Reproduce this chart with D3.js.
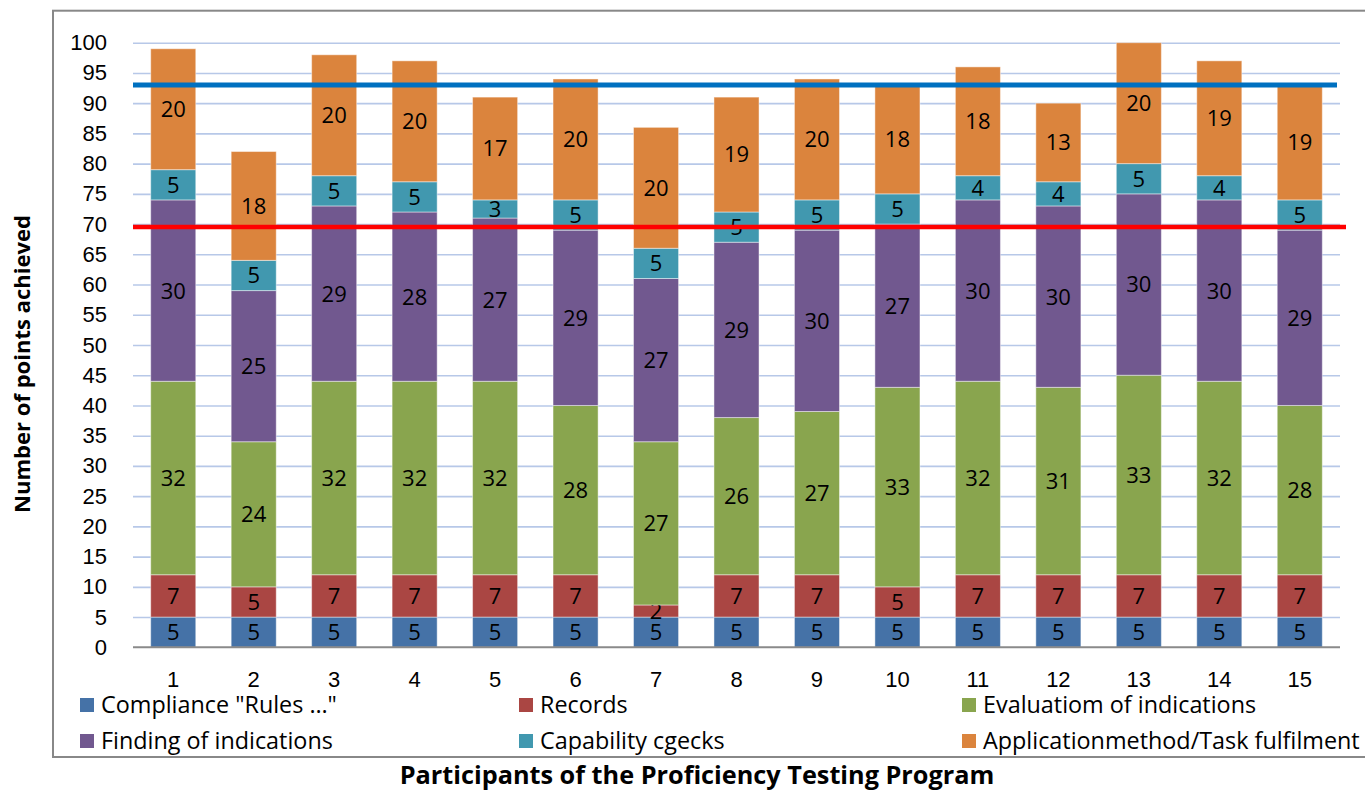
<!DOCTYPE html>
<html>
<head>
<meta charset="utf-8">
<script src="https://cdn.jsdelivr.net/npm/d3@7"></script>
<style>
    body { margin: 0; background: #fff; }
    svg { display: block; font-family: "Open Sans", sans-serif; }
    .grid-hline line { stroke: #b7c8e8; stroke-width: 1.6; }
    .grid-hline path { display: none; }
    .axis path, .axis line { display: none; }
    .axis text { font-size: 22px; fill: #000; }
    .title { font-weight: bold; fill: #000; }
</style>
</head>
<body>
<div id="chart"></div>
<script>
const participants = ["1", "2", "3", "4", "5", "6", "7", "8", "9", "10", "11", "12", "13", "14", "15"]
const seriesNames = ["Compliance \"Rules …\"", "Records", "Evaluatiom of indications",
    "Finding of indications", "Capability cgecks", "Applicationmethod/Task fulfilment"]
const compliance = [5, 5, 5, 5, 5, 5, 5, 5, 5, 5, 5, 5, 5, 5, 5]
const records = [7, 5, 7, 7, 7, 7, 2, 7, 7, 5, 7, 7, 7, 7, 7]
const evaluation = [32, 24, 32, 32, 32, 28, 27, 26, 27, 33, 32, 31, 33, 32, 28]
const finding = [30, 25, 29, 28, 27, 29, 27, 29, 30, 27, 30, 30, 30, 30, 29]
const capability = [5, 5, 5, 5, 3, 5, 5, 5, 5, 5, 4, 4, 5, 4, 5]
const application = [20, 18, 20, 20, 17, 20, 20, 19, 20, 18, 18, 13, 20, 19, 19]
const yTicks = [0, 5, 10, 15, 20, 25, 30, 35, 40, 45, 50, 55, 60, 65, 70, 75, 80, 85, 90, 95, 100]
const upperLimit = 93
const lowerLimit = 69.5

const colors = ["#4572a7", "#aa4643", "#89a54e", "#71588f", "#4198af", "#db843d"]
const seriesValues = [compliance, records, evaluation, finding, capability, application]

// table for d3.stack
const tdata = participants.map((p, i) => {
    const row = { participant: p }
    seriesNames.forEach((k, j) => { row[k] = seriesValues[j][i] })
    return row
})

const W = 1365, H = 792
const plot = { left: 133, right: 1340, top: 42.7, bottom: 647.3 }

const svg = d3.select('#chart').append('svg')
    .attr('width', W)
    .attr('height', H)

// shrink / grow a text so it has the wanted width
function fitFont(sel, size, target) {
    sel.style('font-size', size + 'px')
    const w = sel.node().getComputedTextLength()
    sel.style('font-size', (size * target / w) + 'px')
}

//Frame
svg.append('rect')
    .attr('x', 53)
    .attr('y', 10.7)
    .attr('width', 1400)
    .attr('height', 746.3)
    .attr('fill', 'none')
    .attr('stroke', '#888')
    .attr('stroke-width', 2)

const yScale = d3.scaleLinear()
    .domain([0, 100])
    .range([plot.bottom, plot.top])

const xScale = d3.scaleBand()
    .domain(participants)
    .range([plot.left, plot.right])
    .paddingInner(0.44)
    .paddingOuter(0.22)

//Draw grid
svg.append('g')
    .attr('class', 'grid-hline')
    .attr('transform', `translate(${plot.left},0)`)
    .call(d3.axisLeft(yScale).tickValues(yTicks.filter(d => d > 0)).tickSize(-(plot.right - plot.left)).tickFormat(''))
//End Draw grid

// y axis
svg.append('g')
    .attr('class', 'axis')
    .attr('transform', `translate(${plot.left},0)`)
    .call(d3.axisLeft(yScale).tickValues(yTicks).tickSize(0).tickPadding(26))

// x axis
svg.append('g')
    .attr('class', 'axis')
    .attr('transform', `translate(0,${plot.bottom})`)
    .call(d3.axisBottom(xScale).tickSize(0).tickPadding(24))

const stack = d3.stack().keys(seriesNames)
const layers = stack(tdata)

const layer = svg.append('g').selectAll('g')
    .data(layers)
    .enter().append('g')
    .style('fill', (d, i) => colors[i])

layer.selectAll('rect')
    .data(d => d)
    .enter().append('rect')
    .attr('x', d => xScale(d.data.participant))
    .attr('y', d => yScale(d[1]))
    .attr('height', d => yScale(d[0]) - yScale(d[1]))
    .attr('width', xScale.bandwidth())
    .attr('stroke', '#ffffff')
    .attr('stroke-opacity', 0.45)
    .attr('stroke-width', 1)

// zero line
svg.append('line')
    .attr('x1', plot.left)
    .attr('x2', plot.right)
    .attr('y1', yScale(0))
    .attr('y2', yScale(0))
    .attr('stroke', '#8a8a8a')
    .attr('stroke-width', 2)

// value labels
layer.selectAll('text')
    .data(d => d)
    .enter().append('text')
    .attr('x', d => xScale(d.data.participant) + xScale.bandwidth() / 2)
    .attr('y', d => yScale((d[0] + d[1]) / 2))
    .attr('dy', '0.36em')
    .attr('text-anchor', 'middle')
    .style('fill', '#000')
    .style('font-size', '22px')
    .text(d => d[1] - d[0])

// limit lines
svg.append('line')
    .attr('x1', plot.left)
    .attr('x2', 1337)
    .attr('y1', yScale(upperLimit))
    .attr('y2', yScale(upperLimit))
    .attr('stroke', '#0070c0')
    .attr('stroke-width', 5)

svg.append('line')
    .attr('x1', plot.left)
    .attr('x2', 1346)
    .attr('y1', yScale(lowerLimit))
    .attr('y2', yScale(lowerLimit))
    .attr('stroke', '#ff0000')
    .attr('stroke-width', 4.5)

//Legend
const legendPos = [[80, 705], [519, 705], [962, 705], [80, 741], [519, 741], [962, 741]]
const legend = svg.append('g')
legend.selectAll('rect')
    .data(seriesNames)
    .enter().append('rect')
    .attr('x', (d, i) => legendPos[i][0])
    .attr('y', (d, i) => legendPos[i][1] - 7)
    .attr('width', 14)
    .attr('height', 14)
    .attr('fill', (d, i) => colors[i])
const legendText = legend.selectAll('text')
    .data(seriesNames)
    .enter().append('text')
    .attr('x', (d, i) => legendPos[i][0] + 21)
    .attr('y', (d, i) => legendPos[i][1])
    .attr('dy', '0.36em')
    .style('fill', '#000')
    .text(d => d)
const longest = legendText.filter((d, i) => i == 5)
fitFont(longest, 22, 377)
legendText.style('font-size', longest.style('font-size'))
//End Legend

//y Axis Title
const yTitle = svg.append('text')
    .attr('class', 'title')
    .attr('transform', 'translate(22,364) rotate(-90)')
    .attr('text-anchor', 'middle')
    .attr('dy', '0.36em')
    .text('Number of points achieved')
fitFont(yTitle, 22, 298)

//x Axis Title
const xTitle = svg.append('text')
    .attr('class', 'title')
    .attr('x', 697)
    .attr('y', 784)
    .attr('text-anchor', 'middle')
    .text('Participants of the Proficiency Testing Program')
fitFont(xTitle, 22, 595)
</script>
</body>
</html>
